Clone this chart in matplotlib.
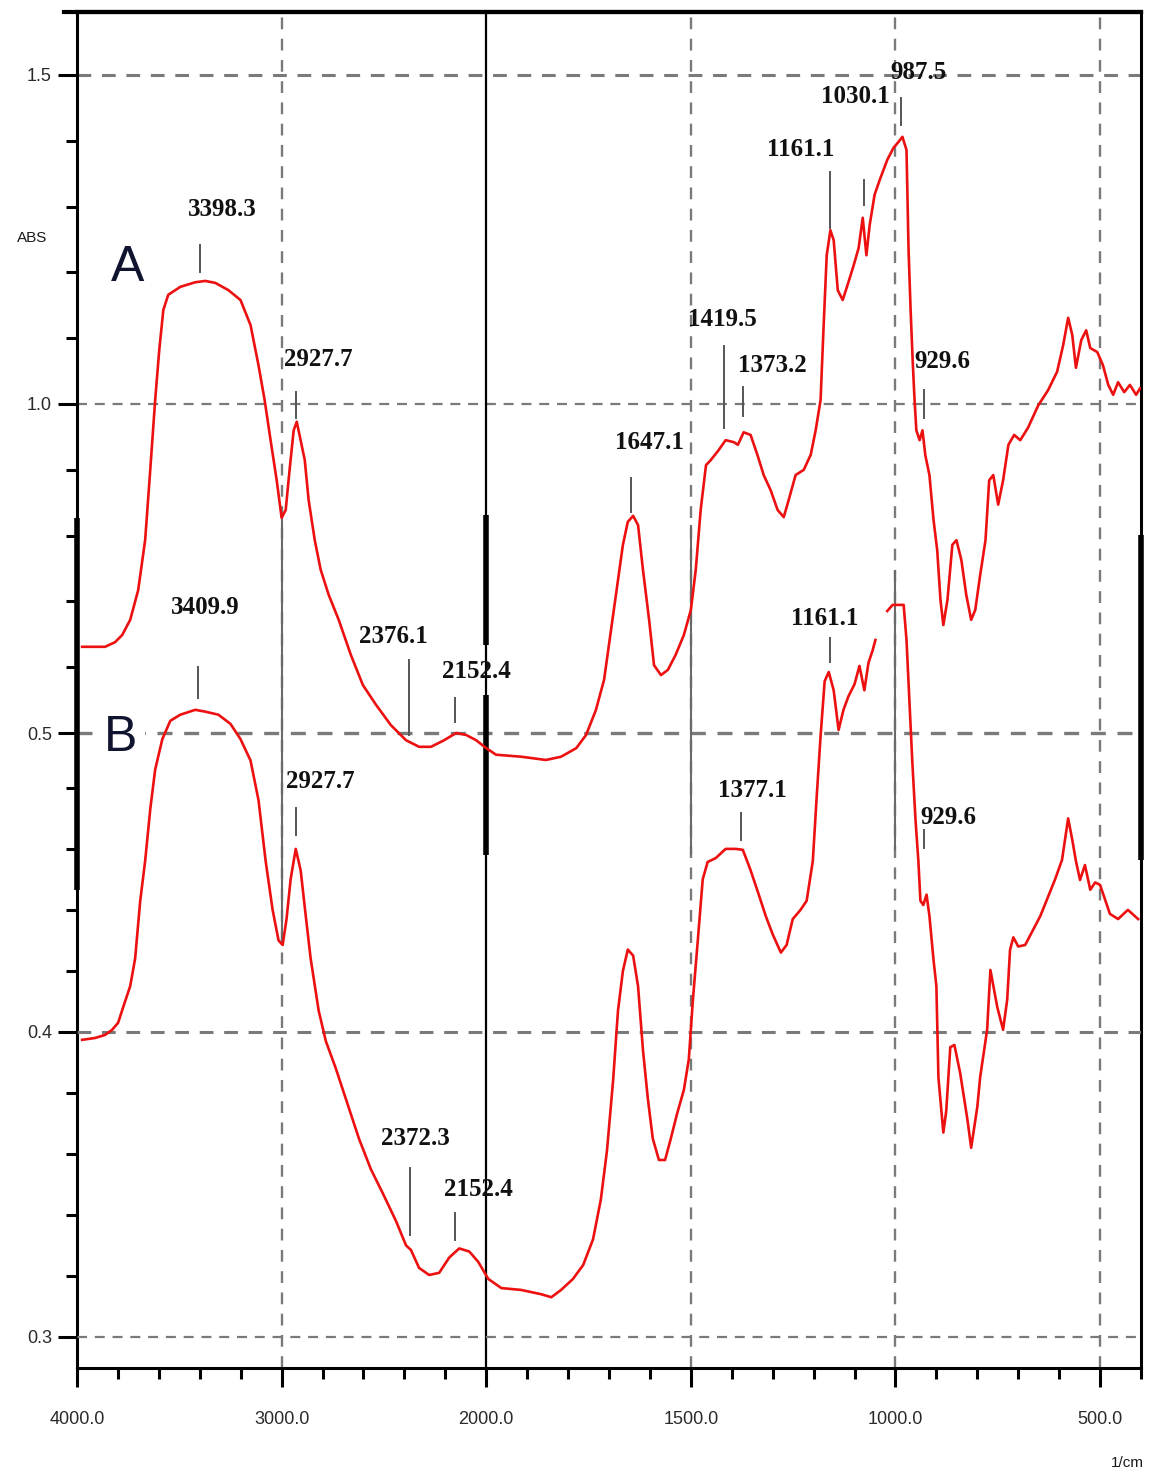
import numpy as np
import matplotlib
matplotlib.use('Agg')
import matplotlib.pyplot as plt

# ---------------- data ----------------
wn_A = [3975, 3863, 3814, 3779, 3740, 3701, 3667, 3642, 3618, 3598, 3578, 3554, 3495, 3422, 3373,
        3324, 3260, 3201, 3152, 3113, 3083, 3054, 3024, 3000, 2980, 2961, 2941, 2926, 2907, 2887,
        2868, 2838, 2809, 2770, 2721, 2662, 2603, 2539, 2466, 2392, 2328, 2270, 2206, 2147, 2098,
        2049, 2000, 1976, 1915, 1854, 1817, 1780, 1756, 1732, 1712, 1695, 1678, 1666, 1654, 1641,
        1629, 1617, 1602, 1590, 1573, 1556, 1537, 1517, 1500, 1488, 1476, 1463, 1451, 1432, 1415,
        1395, 1385, 1371, 1354, 1337, 1322, 1305, 1288, 1273, 1261, 1244, 1224, 1207, 1195, 1183,
        1176, 1168, 1159, 1151, 1141, 1129, 1117, 1102, 1090, 1080, 1071, 1063, 1051, 1037, 1020,
        1005, 993, 983, 973, 968, 963, 958, 954, 949, 941, 934, 927, 917, 907, 898,
        890, 883, 873, 861, 851, 839, 827, 815, 805, 793, 780, 771, 761, 749, 737,
        724, 710, 695, 676, 651, 627, 605, 590, 578, 568, 559, 546, 534, 524, 507,
        493, 480, 468, 456, 441, 427, 412, 402]
abs_A = [0.631, 0.631, 0.638, 0.649, 0.672, 0.717, 0.793, 0.900, 1.006, 1.082, 1.143, 1.166, 1.178, 1.185, 1.187,
         1.184, 1.173, 1.158, 1.120, 1.059, 1.006, 0.945, 0.884, 0.827, 0.839, 0.900, 0.960, 0.973, 0.945, 0.915,
         0.854, 0.793, 0.748, 0.710, 0.672, 0.619, 0.573, 0.543, 0.512, 0.489, 0.479, 0.479, 0.489, 0.500, 0.497,
         0.489, 0.477, 0.467, 0.464, 0.459, 0.464, 0.477, 0.497, 0.535, 0.581, 0.657, 0.733, 0.786, 0.821, 0.830,
         0.816, 0.748, 0.672, 0.603, 0.588, 0.596, 0.619, 0.649, 0.687, 0.748, 0.839, 0.907, 0.915, 0.930, 0.945,
         0.942, 0.938, 0.957, 0.953, 0.922, 0.892, 0.869, 0.839, 0.828, 0.854, 0.892, 0.900, 0.923, 0.960, 1.006,
         1.112, 1.226, 1.264, 1.249, 1.173, 1.158, 1.181, 1.211, 1.237, 1.283, 1.226, 1.272, 1.318, 1.343, 1.371,
         1.389, 1.398, 1.406, 1.386, 1.234, 1.143, 1.067, 1.014, 0.960, 0.945, 0.960, 0.922, 0.892, 0.824, 0.778,
         0.702, 0.664, 0.702, 0.786, 0.793, 0.763, 0.710, 0.672, 0.687, 0.740, 0.793, 0.884, 0.892, 0.847, 0.884,
         0.938, 0.953, 0.945, 0.964, 0.998, 1.021, 1.049, 1.090, 1.131, 1.105, 1.055, 1.097, 1.112, 1.085, 1.079,
         1.059, 1.029, 1.014, 1.033, 1.018, 1.029, 1.014, 1.024]

wn_B = [3975, 3912, 3863, 3828, 3799, 3770, 3740, 3716, 3691, 3667, 3642, 3618, 3583, 3544, 3495,
        3422, 3373, 3309, 3250, 3201, 3152, 3113, 3078, 3044, 3015, 2995, 2976, 2956, 2931, 2907,
        2882, 2858, 2819, 2784, 2735, 2686, 2622, 2564, 2505, 2441, 2392, 2368, 2328, 2279, 2230,
        2181, 2132, 2083, 2039, 1995, 1963, 1915, 1866, 1841, 1817, 1788, 1763, 1739, 1720, 1705,
        1690, 1678, 1666, 1654, 1641, 1629, 1617, 1605, 1593, 1578, 1563, 1549, 1534, 1517, 1505,
        1495, 1483, 1471, 1459, 1439, 1415, 1390, 1373, 1354, 1334, 1317, 1300, 1280, 1266, 1251,
        1232, 1217, 1202, 1193, 1183, 1173, 1163, 1151, 1139, 1127, 1115, 1100, 1088, 1076, 1066,
        1056, 1049, 1035, 1020, 1007, 980, 973, 966, 959, 951, 944, 939, 932, 924, 917,
        907, 900, 895, 883, 876, 866, 856, 842, 824, 815, 800, 793, 776, 768, 751,
        737, 727, 720, 712, 700, 683, 646, 610, 593, 578, 568, 559, 549, 537, 524,
        512, 500, 476, 456, 432, 407]
abs_B = [0.3974, 0.398, 0.399, 0.4007, 0.403, 0.409, 0.415, 0.424, 0.443, 0.456, 0.473, 0.486, 0.496, 0.502, 0.504,
         0.5056, 0.505, 0.504, 0.501, 0.496, 0.489, 0.476, 0.456, 0.440, 0.430, 0.4285, 0.437, 0.450, 0.460, 0.453,
         0.438, 0.424, 0.407, 0.397, 0.388, 0.378, 0.365, 0.355, 0.347, 0.338, 0.330, 0.3285, 0.3226, 0.3203, 0.321,
         0.326, 0.329, 0.328, 0.3246, 0.319, 0.316, 0.3154, 0.314, 0.313, 0.3154, 0.319, 0.3236, 0.332, 0.345, 0.361,
         0.384, 0.407, 0.420, 0.427, 0.425, 0.415, 0.394, 0.378, 0.365, 0.358, 0.358, 0.365, 0.373, 0.381, 0.391,
         0.4105, 0.430, 0.450, 0.4557, 0.457, 0.460, 0.460, 0.4597, 0.453, 0.445, 0.438, 0.432, 0.426, 0.4285, 0.437,
         0.440, 0.443, 0.456, 0.476, 0.497, 0.515, 0.518, 0.512, 0.499, 0.5056, 0.510, 0.514, 0.520, 0.512, 0.521,
         0.525, 0.5285, np.nan, 0.538, 0.540, 0.540, 0.5285, 0.509, 0.489, 0.4695, 0.456, 0.443, 0.4416, 0.445, 0.438,
         0.4236, 0.415, 0.385, 0.367, 0.374, 0.395, 0.3957, 0.3866, 0.3711, 0.362, 0.3754, 0.3852, 0.4007, 0.4203, 0.408,
         0.4007, 0.4105, 0.4269, 0.431, 0.428, 0.4285, 0.438, 0.450, 0.4564, 0.470, 0.463, 0.456, 0.4498, 0.4547, 0.4466,
         0.449, 0.4482, 0.4387, 0.4370, 0.440, 0.437]

x_major = [4000, 3000, 2000, 1500, 1000, 500]
x_major_labels = ['4000.0', '3000.0', '2000.0', '1500.0', '1000.0', '500.0']
x_minor = [3800, 3600, 3400, 3200, 2800, 2600, 2400, 2200, 1900, 1800, 1700, 1600,
           1400, 1300, 1200, 1100, 900, 800, 700, 600, 400]
yA_major = [1.5, 1.0, 0.5]
yA_labels = ['1.5', '1.0', '0.5']
yA_minor = [1.4, 1.3, 1.2, 1.1, 0.9, 0.8, 0.7, 0.6]
yB_major = [0.4, 0.3]
yB_labels = ['0.4', '0.3']
yB_minor = [0.48, 0.46, 0.44, 0.42, 0.38, 0.36, 0.34, 0.32]

peak_labels_A = ['3398.3', '2927.7', '2376.1', '2152.4', '1647.1', '1419.5', '1373.2',
                 '1161.1', '1030.1', '987.5', '929.6']
peak_labels_B = ['3409.9', '2927.7', '2372.3', '2152.4', '1377.1', '1161.1', '929.6']

# layout of annotations: (text x, text y, marker x, marker y0, marker y1)
ann_A = [(3289, 1.295, 3398.3, 1.2006, 1.2416),
         (2819, 1.067, 2927.7, 0.979, 1.018),
         (2456, 0.647, 2376.1, 0.497, 0.611),
         (2049, 0.593, 2152.4, 0.517, 0.553),
         (1602, 0.942, 1647.1, 0.836, 0.888),
         (1422, 1.128, 1419.5, 0.9635, 1.088),
         (1300, 1.059, 1373.2, 0.982, 1.026),
         (1232, 1.386, 1161.1, 1.2675, 1.353),
         (1098, 1.4666, 1078, 1.302, 1.340),
         (944, 1.503, 987.5, 1.424, 1.465),
         (885, 1.064, 929.6, 0.979, 1.021)]
ann_B = [(3373, 0.5393, 3409.9, 0.5095, 0.5197),
         (2809, 0.482, 2927.7, 0.4646, 0.4734),
         (2348, 0.3652, 2372.3, 0.3334, 0.3554),
         (2039, 0.3482, 2152.4, 0.3318, 0.3407),
         (1349, 0.4793, 1377.1, 0.463, 0.4718),
         (1173, 0.5357, 1161.1, 0.5213, 0.5292),
         (871, 0.4702, 929.6, 0.4603, 0.4662)]


# ---------------- scale: 4000-2000 compressed 2x ----------------
def fwd(x):
    x = np.asarray(x, dtype=float)
    return np.where(x >= 2000, x, 2 * x - 2000)


def inv(y):
    y = np.asarray(y, dtype=float)
    return np.where(y >= 2000, y, (y + 2000) / 2)


W, H = 1154, 1477
fig = plt.figure(figsize=(W / 100, H / 100), dpi=100)
L, R, T, B = 77, 1141, 12, 1368
ax = fig.add_axes([L / W, (H - B) / H, (R - L) / W, (B - T) / H])
ax.set_xscale('function', functions=(fwd, inv))
ax.set_xlim(4000, 400)
ax.set_ylim(-0.465, 1.5957)

ax2 = ax.twinx()
ax2.set_ylim(0.2898, 0.7344)
ax2.yaxis.tick_left()
for s in ax2.spines.values():
    s.set_visible(False)

red = '#ec1010'
grid_c = '#7a7a7a'
tick_font = dict(family='Liberation Sans', size=13, color='#2a2a2a')

# grid lines
for yv, lw in zip(yA_major, [2.2, 1.6, 2.4]):
    ax.axhline(yv, color=grid_c, lw=lw, dashes=(4.5, 3.5), zorder=1)
for yv, lw in zip(yB_major, [2.2, 1.6]):
    ax2.axhline(yv, color=grid_c, lw=lw, dashes=(4.5, 3.5), zorder=1)
for xv in [3000, 1500, 1000, 500]:
    ax.axvline(xv, color=grid_c, lw=1.7, dashes=(5, 4), zorder=1)
ax.axvline(2000, color='black', lw=1.6, zorder=2)

# overlay artefacts: solid gray and thick black segments
ax.vlines([3000], 0.178, 0.827, color='#6a6a6a', lw=1.5, zorder=2)
ax.vlines([1500], 0.3146, 0.816, color='#6a6a6a', lw=1.5, zorder=2)
ax.vlines([1000], 0.322, 0.748, color='#6a6a6a', lw=1.5, zorder=2)
ax.vlines([2000, 2000], [0.634, 0.315], [0.831, 0.558], color='black', lw=4, zorder=2)
ax.vlines([4000], 0.261, 0.827, color='black', lw=4, zorder=5, clip_on=False)
ax.vlines([400], 0.307, 0.801, color='black', lw=4, zorder=5, clip_on=False)

# spectra
ax.plot(wn_A, abs_A, color=red, lw=1.9, zorder=4)
ax2.plot(wn_B, abs_B, color=red, lw=1.9, zorder=4)

# peak annotations
lab_font = dict(family='Liberation Serif', size=18, weight='bold', color='#111111')
for lab, (tx, ty, mx, y0, y1) in zip(peak_labels_A, ann_A):
    ax.text(tx, ty, lab, ha='center', va='center', zorder=6, **lab_font)
    ax.plot([mx, mx], [y0, y1], color='#555555', lw=1.4, zorder=5)
for lab, (tx, ty, mx, y0, y1) in zip(peak_labels_B, ann_B):
    ax2.text(tx, ty, lab, ha='center', va='center', zorder=6, **lab_font)
    ax2.plot([mx, mx], [y0, y1], color='#555555', lw=1.4, zorder=5)

ax.text(3755, 1.207, 'A', ha='center', va='center', family='Liberation Sans',
        size=36, color='#10142e', zorder=6)
ax2.text(3789, 0.4964, 'B', ha='center', va='center', family='Liberation Sans',
         size=36, color='#10142e', zorder=6,
         bbox=dict(facecolor='white', edgecolor='none', pad=6))

# ticks
ax.set_xticks(x_major, labels=x_major_labels)
ax.set_xticks(x_minor, minor=True)
ax.set_yticks(yA_major, labels=yA_labels)
ax.set_yticks(yA_minor, minor=True)
ax2.set_yticks(yB_major, labels=yB_labels)
ax2.set_yticks(yB_minor, minor=True)
for a in (ax, ax2):
    a.tick_params(which='major', direction='out', length=14, width=2.2, color='black')
    a.tick_params(which='minor', direction='out', length=8, width=2.2, color='black')
    a.tick_params(axis='y', pad=4)
ax.tick_params(axis='x', pad=17)
for lbl in ax.get_xticklabels() + ax.get_yticklabels() + ax2.get_yticklabels():
    lbl.set_fontfamily(tick_font['family'])
    lbl.set_fontsize(tick_font['size'])
    lbl.set_color(tick_font['color'])

for s in ax.spines.values():
    s.set_linewidth(2.2)
ax.spines['top'].set_linewidth(3)
ax.plot([-0.012, 1.0], [1, 1], transform=ax.transAxes, color='black', lw=3,
        clip_on=False, zorder=5)

fig.text(32 / W, 1 - 238 / H, 'ABS', ha='center', va='center', family='Liberation Sans',
         size=11, color='#1a1a1a')
fig.text(1127 / W, 1 - 1463 / H, '1/cm', ha='center', va='center', family='Liberation Sans',
         size=11, color='#1a1a1a')

fig.savefig('out.png', dpi=100)
